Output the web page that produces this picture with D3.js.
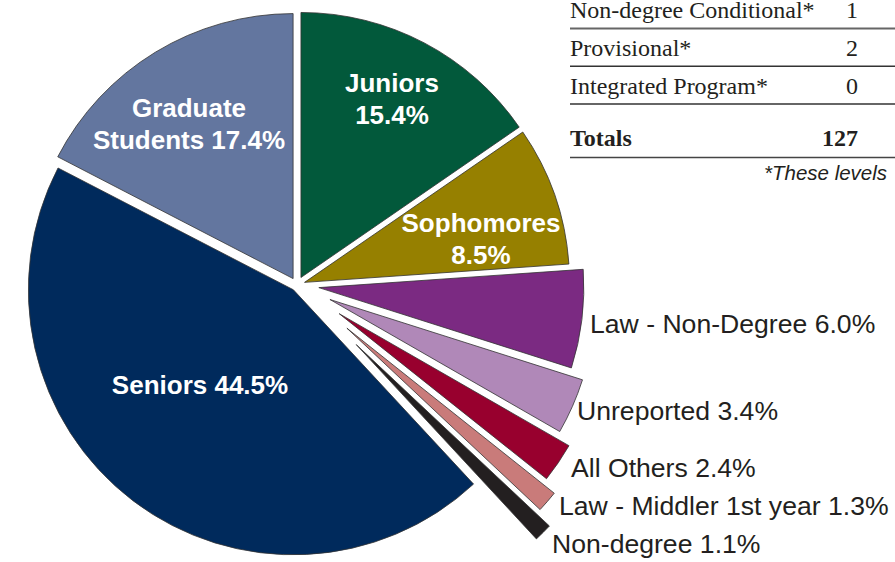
<!DOCTYPE html>
<html>
<head>
<meta charset="utf-8">
<script src="https://cdn.jsdelivr.net/npm/d3@7.9.0/dist/d3.min.js"></script>
<style>
  html, body { margin: 0; padding: 0; background: #fff; }
  svg { display: block; }
</style>
</head>
<body>
<div id="chart"></div>
<script>
// Slice data, clockwise from 12 o'clock
const categories = ['Juniors', 'Sophomores', 'Law - Non-Degree', 'Unreported', 'All Others',
  'Law - Middler 1st year', 'Non-degree', 'Seniors', 'Graduate Students'];
const shares = [15.4, 8.5, 6.0, 3.4, 2.4, 1.3, 1.1, 44.5, 17.4];

// Table rows (top of the table is cropped off in the original)
const tableLabels = ['Non-degree Conditional*', 'Provisional*', 'Integrated Program*'];
const tableCounts = [1, 2, 0];
const totalCount = 127;
const footnote = '*These levels';

// Styling
const colors = ['#02593b', '#968000', '#7b2a82', '#b088b8', '#98002e',
  '#c97b7a', '#231f20', '#002a5c', '#63769f'];
const explode = [8.5, 8, 22, 36, 51, 66, 84, 6, 7.5];
// label layout: inside (white bold, multi-line) or outside (dark, left aligned)
const labelLayout = [
  { x: 392, y: 92, inside: true, lines: ['Juniors', '15.4%'] },
  { x: 481, y: 232, inside: true, lines: ['Sophomores', '8.5%'] },
  { x: 590, y: 333, inside: false },
  { x: 577, y: 420, inside: false },
  { x: 571, y: 477, inside: false },
  { x: 559, y: 515, inside: false },
  { x: 552, y: 553, inside: false },
  { x: 200, y: 394, inside: true, lines: ['Seniors 44.5%'] },
  { x: 189, y: 117, inside: true, lines: ['Graduate', 'Students 17.4%'] }
];

const width = 895, height = 562;
const cx = 297, cy = 285, radius = 265;

const svg = d3.select('#chart').append('svg')
  .attr('width', width)
  .attr('height', height)
  .attr('viewBox', `0 0 ${width} ${height}`);

const pie = d3.pie().sort(null).value(d => d.value);
const arc = d3.arc().innerRadius(0).outerRadius(radius);

const slices = pie(categories.map((c, i) => ({ name: c, value: shares[i], i })));

const g = svg.append('g').attr('transform', `translate(${cx},${cy})`);

g.selectAll('path')
  .data(slices)
  .join('path')
  .attr('d', arc)
  .attr('transform', d => {
    const a = (d.startAngle + d.endAngle) / 2;
    const off = explode[d.data.i];
    return `translate(${Math.sin(a) * off},${-Math.cos(a) * off})`;
  })
  .attr('fill', d => colors[d.data.i])
  .attr('stroke', '#333')
  .attr('stroke-width', 0.8);

// Slice labels
slices.forEach(d => {
  const L = labelLayout[d.data.i];
  if (L.inside) {
    const t = svg.append('text')
      .attr('x', L.x)
      .attr('y', L.y)
      .attr('text-anchor', 'middle')
      .attr('fill', '#fff')
      .style('font-family', '"Liberation Sans", Arial, sans-serif')
      .style('font-weight', 'bold')
      .style('font-size', '26px');
    L.lines.forEach((ln, k) => {
      t.append('tspan').attr('x', L.x).attr('dy', k === 0 ? 0 : 31.5).text(ln);
    });
  } else {
    svg.append('text')
      .attr('x', L.x)
      .attr('y', L.y)
      .attr('fill', '#231f20')
      .style('font-family', '"Liberation Sans", Arial, sans-serif')
      .style('font-size', '26.6px')
      .text(`${d.data.name} ${d.data.value.toFixed(1)}%`);
  }
});

// Table at top right
const table = svg.append('g').attr('class', 'table');
const rowY = d3.scalePoint().domain(d3.range(tableLabels.length)).range([18, 93.5]);
const tableLeft = 570, valueRight = 858;

tableLabels.forEach((lab, i) => {
  table.append('text')
    .attr('x', tableLeft).attr('y', rowY(i))
    .attr('fill', '#231f20')
    .style('font-family', '"Liberation Serif", "Times New Roman", serif')
    .style('font-size', '24px')
    .text(lab);
  table.append('text')
    .attr('x', valueRight).attr('y', rowY(i))
    .attr('text-anchor', 'end')
    .attr('fill', '#231f20')
    .style('font-family', '"Liberation Serif", "Times New Roman", serif')
    .style('font-size', '24px')
    .text(tableCounts[i]);
  table.append('line')
    .attr('x1', tableLeft).attr('x2', width)
    .attr('y1', rowY(i) + 10.5).attr('y2', rowY(i) + 10.5)
    .attr('stroke', i === 0 ? '#666' : '#333')
    .attr('stroke-width', i === 0 ? 2.2 : 1.6);
});

table.append('text')
  .attr('x', tableLeft).attr('y', 146)
  .attr('fill', '#231f20')
  .style('font-family', '"Liberation Serif", "Times New Roman", serif')
  .style('font-weight', 'bold')
  .style('font-size', '24px')
  .text('Totals');
table.append('text')
  .attr('x', valueRight).attr('y', 146)
  .attr('text-anchor', 'end')
  .attr('fill', '#231f20')
  .style('font-family', '"Liberation Serif", "Times New Roman", serif')
  .style('font-weight', 'bold')
  .style('font-size', '24px')
  .text(totalCount);
table.append('line')
  .attr('x1', tableLeft).attr('x2', width)
  .attr('y1', 157.5).attr('y2', 157.5)
  .attr('stroke', '#444')
  .attr('stroke-width', 1.6);

table.append('text')
  .attr('x', 764).attr('y', 180)
  .attr('fill', '#231f20')
  .style('font-family', '"Liberation Sans", Arial, sans-serif')
  .style('font-style', 'italic')
  .style('font-size', '20.5px')
  .text(footnote);
</script>
</body>
</html>
